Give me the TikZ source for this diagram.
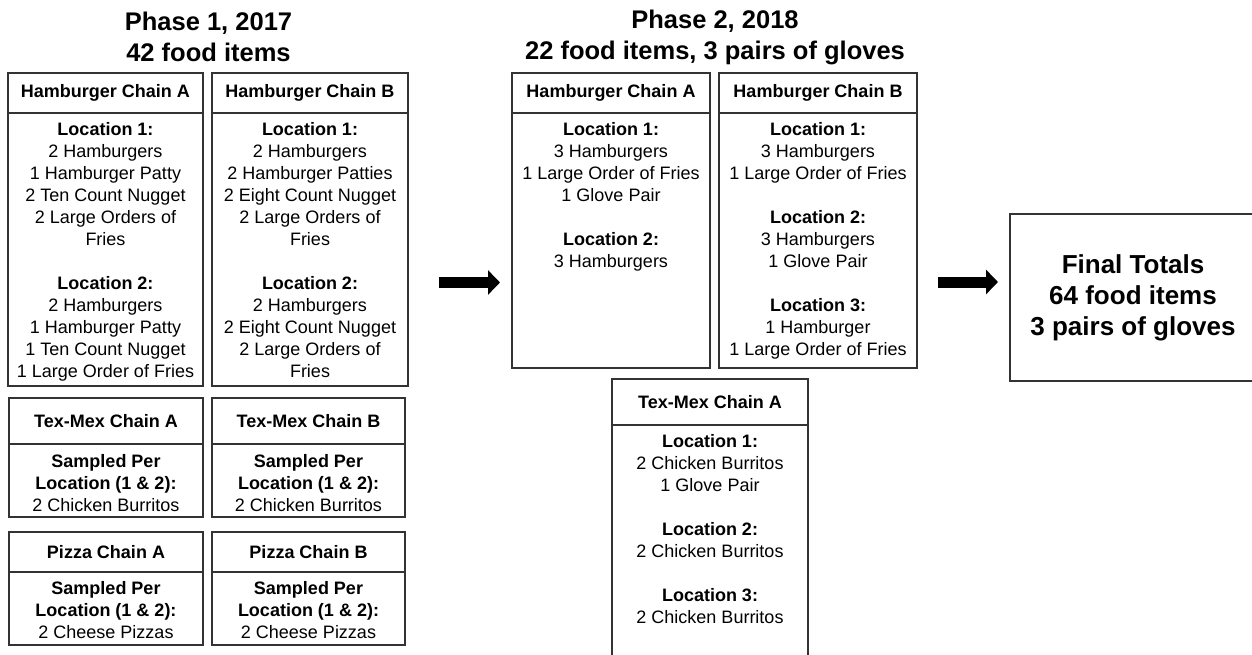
\documentclass[tikz,border=0pt]{standalone}
\usepackage{fontspec}
\setmainfont{Liberation Sans}
\usepackage{tikz}
\usetikzlibrary{positioning,arrows.meta}

\tikzset{
	head/.style={rectangle, draw=black!80, line width=1.2pt, outer sep=0pt, inner sep=0pt,
		minimum height=40pt, font=\bfseries\fontsize{18}{22}\selectfont},
	frame/.style={rectangle, draw=black!80, line width=1.2pt, outer sep=0pt, inner sep=0pt},
	items/.style={align=center, inner sep=0pt, outer sep=0pt, font=\fontsize{18}{22}\selectfont},
	phasetitle/.style={align=center, inner sep=0pt, font=\bfseries\fontsize{25.5}{31}\selectfont},
	bigarrow/.style={line width=11pt, -{Triangle[length=12pt,width=24pt]}}
}

\begin{document}
\begin{tikzpicture}[x=1pt,y=-1pt]
		
		\useasboundingbox (0,0) rectangle (1252,655);
		
		% Phase 1
		
		\node[phasetitle] (title1) at (208.5,37) {Phase 1, 2017\\42 food items};
		
		\node[head, minimum width=195pt] 
		(hamA1) at (105.5,93) {Hamburger Chain A};
		\node[frame, minimum width=195pt, minimum height=273pt, below=0pt of hamA1] (hamA1box) {};
		\node[items, below=9pt of hamA1] (hamA1list) {\textbf{Location 1:}\\2 Hamburgers\\1 Hamburger Patty\\2 Ten Count Nugget\\2 Large Orders of\\Fries\\[22pt]
			\textbf{Location 2:}\\2 Hamburgers\\1 Hamburger Patty\\1 Ten Count Nugget\\1 Large Order of Fries};
		
		\node[head, minimum width=196pt] 
		(hamB1) at (310,93) {Hamburger Chain B};
		\node[frame, minimum width=196pt, minimum height=273pt, below=0pt of hamB1] (hamB1box) {};
		\node[items, below=9pt of hamB1] (hamB1list) {\textbf{Location 1:}\\2 Hamburgers\\2 Hamburger Patties\\2 Eight Count Nugget\\2 Large Orders of\\Fries\\[22pt]
			\textbf{Location 2:}\\2 Hamburgers\\2 Eight Count Nugget\\2 Large Orders of\\Fries};
		
		\node[head, minimum width=194pt, minimum height=46pt] 
		(texA1) at (106,421) {Tex-Mex Chain A};
		\node[frame, minimum width=194pt, minimum height=73pt, below=0pt of texA1] (texA1box) {};
		\node[items, below=10pt of texA1] (texA1list) {\textbf{Sampled Per}\\\textbf{Location (1 \& 2):}\\2 Chicken Burritos};
		
		\node[head, minimum width=193pt, minimum height=46pt] 
		(texB1) at (308.5,421) {Tex-Mex Chain B};
		\node[frame, minimum width=193pt, minimum height=73pt, below=0pt of texB1] (texB1box) {};
		\node[items, below=10pt of texB1] (texB1list) {\textbf{Sampled Per}\\\textbf{Location (1 \& 2):}\\2 Chicken Burritos};
		
		\node[head, minimum width=194pt] 
		(pizA1) at (106,552) {Pizza Chain A};
		\node[frame, minimum width=194pt, minimum height=73pt, below=0pt of pizA1] (pizA1box) {};
		\node[items, below=9pt of pizA1] (pizA1list) {\textbf{Sampled Per}\\\textbf{Location (1 \& 2):}\\2 Cheese Pizzas};
		
		\node[head, minimum width=193pt] 
		(pizB1) at (308.5,552) {Pizza Chain B};
		\node[frame, minimum width=193pt, minimum height=73pt, below=0pt of pizB1] (pizB1box) {};
		\node[items, below=9pt of pizB1] (pizB1list) {\textbf{Sampled Per}\\\textbf{Location (1 \& 2):}\\2 Cheese Pizzas};
		
		% Phase 2
		
		\node[phasetitle] (title2) at (715,37) {Phase 2, 2018\\22 food items, 3 pairs of gloves};
		
		\node[head, minimum width=198pt] 
		(hamA2) at (611,93) {Hamburger Chain A};
		\node[frame, minimum width=198pt, minimum height=255pt, below=0pt of hamA2] (hamA2box) {};
		\node[items, below=9pt of hamA2] (hamA2list) {\textbf{Location 1:}\\3 Hamburgers\\1 Large Order of Fries\\1 Glove Pair\\[22pt]
			\textbf{Location 2:}\\3 Hamburgers};
		
		\node[head, minimum width=198pt] 
		(hamB2) at (818,93) {Hamburger Chain B};
		\node[frame, minimum width=198pt, minimum height=255pt, below=0pt of hamB2] (hamB2box) {};
		\node[items, below=9pt of hamB2] (hamB2list) {\textbf{Location 1:}\\3 Hamburgers\\1 Large Order of Fries\\[22pt]
			\textbf{Location 2:}\\3 Hamburgers\\1 Glove Pair\\[22pt]
			\textbf{Location 3:}\\1 Hamburger\\1 Large Order of Fries};
		
		\node[head, minimum width=196pt, minimum height=46pt] 
		(texA2) at (710,402) {Tex-Mex Chain A};
		\node[frame, minimum width=196pt, minimum height=260pt, below=0pt of texA2] (texA2box) {};
		\node[items, below=9pt of texA2] (texA2list) {\textbf{Location 1:}\\2 Chicken Burritos\\1 Glove Pair\\[22pt]
			\textbf{Location 2:}\\2 Chicken Burritos\\[22pt]
			\textbf{Location 3:}\\2 Chicken Burritos};
		
		% Totals
		
		\node[frame, minimum width=246pt, minimum height=167pt, align=center,
		font=\bfseries\fontsize{26}{31}\selectfont] 
		(totals) at (1133,297.5) {Final Totals\\64 food items\\3 pairs of gloves};
		
		% Arrows
		
		\coordinate (arrow1start) at (439,282.5);
		\coordinate (arrow1end) at (500,282.5);
		\coordinate (arrow2start) at (938,282);
		\coordinate (arrow2end) at (998,282);
		
		\draw[bigarrow] (arrow1start) -- (arrow1end);
		
		\draw[bigarrow] (arrow2start) -- (arrow2end);
		
	\end{tikzpicture}
\end{document}
